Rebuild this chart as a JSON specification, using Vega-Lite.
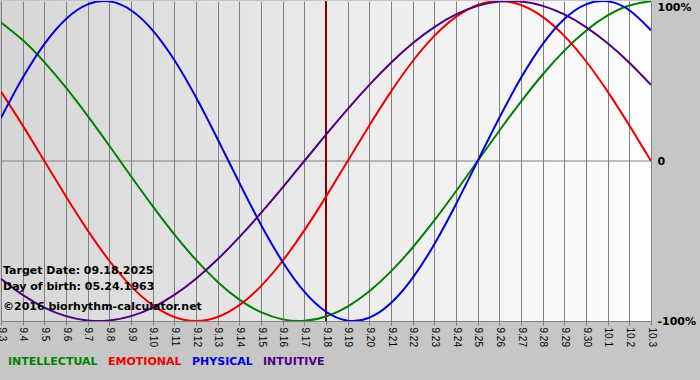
{
  "$schema": "https://vega.github.io/schema/vega-lite/v6.json",
  "width": 650,
  "height": 320,
  "autosize": "none",
  "padding": {"left": 1, "top": 1, "right": 49, "bottom": 59},
  "background": "#c6c6c6",
  "config": {
    "view": {
      "stroke": null,
      "fill": {"gradient": "linear", "x1": 0, "y1": 0, "x2": 1, "y2": 0,
        "stops": [{"offset": 0, "color": "#d6d6d6"}, {"offset": 1, "color": "#fefefe"}]}
    },
    "font": "DejaVu Sans"
  },
  "datasets": {
    "bio": [
      {"day": 0, "INTELLECTUAL": 0.8660, "EMOTIONAL": 0.4339, "PHYSICAL": 0.2698, "INTUITIVE": -0.7357},
      {"day": 1, "INTELLECTUAL": 0.7557, "EMOTIONAL": 0.2225, "PHYSICAL": 0.5196, "INTUITIVE": -0.8372},
      {"day": 2, "INTELLECTUAL": 0.6182, "EMOTIONAL": 0.0, "PHYSICAL": 0.7308, "INTUITIVE": -0.9158},
      {"day": 3, "INTELLECTUAL": 0.4582, "EMOTIONAL": -0.2225, "PHYSICAL": 0.8879, "INTUITIVE": -0.9694},
      {"day": 4, "INTELLECTUAL": 0.2817, "EMOTIONAL": -0.4339, "PHYSICAL": 0.9791, "INTUITIVE": -0.9966},
      {"day": 5, "INTELLECTUAL": 0.0951, "EMOTIONAL": -0.6235, "PHYSICAL": 0.9977, "INTUITIVE": -0.9966},
      {"day": 6, "INTELLECTUAL": -0.0951, "EMOTIONAL": -0.7818, "PHYSICAL": 0.9423, "INTUITIVE": -0.9694},
      {"day": 7, "INTELLECTUAL": -0.2817, "EMOTIONAL": -0.9010, "PHYSICAL": 0.8170, "INTUITIVE": -0.9158},
      {"day": 8, "INTELLECTUAL": -0.4582, "EMOTIONAL": -0.9749, "PHYSICAL": 0.6311, "INTUITIVE": -0.8372},
      {"day": 9, "INTELLECTUAL": -0.6182, "EMOTIONAL": -1.0, "PHYSICAL": 0.3984, "INTUITIVE": -0.7357},
      {"day": 10, "INTELLECTUAL": -0.7557, "EMOTIONAL": -0.9749, "PHYSICAL": 0.1362, "INTUITIVE": -0.6142},
      {"day": 11, "INTELLECTUAL": -0.8660, "EMOTIONAL": -0.9010, "PHYSICAL": -0.1362, "INTUITIVE": -0.4759},
      {"day": 12, "INTELLECTUAL": -0.9450, "EMOTIONAL": -0.7818, "PHYSICAL": -0.3984, "INTUITIVE": -0.3247},
      {"day": 13, "INTELLECTUAL": -0.9898, "EMOTIONAL": -0.6235, "PHYSICAL": -0.6311, "INTUITIVE": -0.1646},
      {"day": 14, "INTELLECTUAL": -0.9989, "EMOTIONAL": -0.4339, "PHYSICAL": -0.8170, "INTUITIVE": 0.0},
      {"day": 15, "INTELLECTUAL": -0.9718, "EMOTIONAL": -0.2225, "PHYSICAL": -0.9423, "INTUITIVE": 0.1646},
      {"day": 16, "INTELLECTUAL": -0.9096, "EMOTIONAL": 0.0, "PHYSICAL": -0.9977, "INTUITIVE": 0.3247},
      {"day": 17, "INTELLECTUAL": -0.8146, "EMOTIONAL": 0.2225, "PHYSICAL": -0.9791, "INTUITIVE": 0.4759},
      {"day": 18, "INTELLECTUAL": -0.6901, "EMOTIONAL": 0.4339, "PHYSICAL": -0.8879, "INTUITIVE": 0.6142},
      {"day": 19, "INTELLECTUAL": -0.5406, "EMOTIONAL": 0.6235, "PHYSICAL": -0.7308, "INTUITIVE": 0.7357},
      {"day": 20, "INTELLECTUAL": -0.3717, "EMOTIONAL": 0.7818, "PHYSICAL": -0.5196, "INTUITIVE": 0.8372},
      {"day": 21, "INTELLECTUAL": -0.1893, "EMOTIONAL": 0.9010, "PHYSICAL": -0.2698, "INTUITIVE": 0.9158},
      {"day": 22, "INTELLECTUAL": 0.0, "EMOTIONAL": 0.9749, "PHYSICAL": 0.0, "INTUITIVE": 0.9694},
      {"day": 23, "INTELLECTUAL": 0.1893, "EMOTIONAL": 1.0, "PHYSICAL": 0.2698, "INTUITIVE": 0.9966},
      {"day": 24, "INTELLECTUAL": 0.3717, "EMOTIONAL": 0.9749, "PHYSICAL": 0.5196, "INTUITIVE": 0.9966},
      {"day": 25, "INTELLECTUAL": 0.5406, "EMOTIONAL": 0.9010, "PHYSICAL": 0.7308, "INTUITIVE": 0.9694},
      {"day": 26, "INTELLECTUAL": 0.6901, "EMOTIONAL": 0.7818, "PHYSICAL": 0.8879, "INTUITIVE": 0.9158},
      {"day": 27, "INTELLECTUAL": 0.8146, "EMOTIONAL": 0.6235, "PHYSICAL": 0.9791, "INTUITIVE": 0.8372},
      {"day": 28, "INTELLECTUAL": 0.9096, "EMOTIONAL": 0.4339, "PHYSICAL": 0.9977, "INTUITIVE": 0.7357},
      {"day": 29, "INTELLECTUAL": 0.9718, "EMOTIONAL": 0.2225, "PHYSICAL": 0.9423, "INTUITIVE": 0.6142},
      {"day": 30, "INTELLECTUAL": 0.9989, "EMOTIONAL": 0.0, "PHYSICAL": 0.8170, "INTUITIVE": 0.4759}
    ]
  },
  "layer": [
    {
      "data": {"values": [{"v": 0}]},
      "mark": {"type": "rule", "color": "#808080", "strokeWidth": 1},
      "encoding": {"y": {"field": "v", "type": "quantitative", "scale": {"domain": [-1, 1], "nice": false},
        "axis": {
          "title": null,
          "orient": "right",
          "values": [-1, 0, 1],
          "labelExpr": "datum.value == 1 ? '100%' : datum.value == -1 ? '-100%' : '0'",
          "labelFont": "DejaVu Sans",
          "labelFontSize": 11,
          "labelFontWeight": "bold",
          "labelColor": "#000000",
          "labelPadding": 6,
          "domain": false,
          "ticks": false,
          "grid": false,
          "labelFlush": false,
          "labelBaseline": {"condition": {"test": "datum.value == 1", "value": "top"}, "value": "middle"}
        }}}
    },
    {
      "data": {"values": [{"day": 15}]},
      "mark": {"type": "rule", "color": "#800000", "strokeWidth": 2},
      "encoding": {"x": {"field": "day", "type": "ordinal",
        "scale": {"type": "point", "padding": 0, "domain": [0,1,2,3,4,5,6,7,8,9,10,11,12,13,14,15,16,17,18,19,20,21,22,23,24,25,26,27,28,29,30]},
        "axis": {
          "title": null,
          "labelExpr": "datum.value <= 27 ? '9.' + (datum.value + 3) : '10.' + (datum.value - 27)",
          "labelAngle": 90,
          "labelFont": "Liberation Sans",
          "labelFontSize": 10,
          "labelColor": "#000000",
          "labelPadding": 2,
          "labelOverlap": false,
          "labelFlush": false,
          "labelBound": false,
          "grid": true,
          "gridColor": "#808080",
          "gridOpacity": 1,
          "gridWidth": 1,
          "domainColor": "#808080",
          "tickColor": "#808080",
          "tickSize": 4
        }}}
    },
    {
      "data": {"name": "bio"},
      "transform": [{"fold": ["INTELLECTUAL", "EMOTIONAL", "PHYSICAL", "INTUITIVE"], "as": ["key", "val"]}],
      "mark": {"type": "line", "strokeWidth": 2, "interpolate": "natural", "clip": true},
      "encoding": {
        "x": {"field": "day", "type": "ordinal"},
        "y": {"field": "val", "type": "quantitative"},
        "color": {
          "field": "key", "type": "nominal",
          "scale": {"domain": ["INTELLECTUAL", "EMOTIONAL", "PHYSICAL", "INTUITIVE"], "range": ["#008000", "#ee0000", "#0000dd", "#4b0082"]},
          "legend": {
            "orient": "none",
            "legendX": 8,
            "legendY": 355,
            "padding": 0,
            "direction": "horizontal",
            "title": null,
            "symbolSize": 0.01,
            "symbolOpacity": 0,
            "symbolStrokeWidth": 0,
            "labelOffset": -12,
            "columnPadding": 10,
            "labelFont": "DejaVu Sans",
            "labelFontSize": 11,
            "labelFontWeight": "bold",
            "encode": {"labels": {"update": {"fill": {"scale": "color", "field": "value"}}}}
          }
        }
      }
    },
    {
      "data": {"values": [{}]},
      "mark": {"type": "text", "align": "left", "baseline": "middle", "dx": 2, "font": "DejaVu Sans", "fontSize": 11, "fontWeight": "bold", "color": "#000000"},
      "encoding": {"x": {"datum": 0, "type": "ordinal"}, "y": {"datum": -0.6875}, "text": {"value": "Target Date: 09.18.2025"}}
    },
    {
      "data": {"values": [{}]},
      "mark": {"type": "text", "align": "left", "baseline": "middle", "dx": 2, "font": "DejaVu Sans", "fontSize": 11, "fontWeight": "bold", "color": "#000000"},
      "encoding": {"x": {"datum": 0, "type": "ordinal"}, "y": {"datum": -0.7875}, "text": {"value": "Day of birth: 05.24.1963"}}
    },
    {
      "data": {"values": [{}]},
      "mark": {"type": "text", "align": "left", "baseline": "middle", "dx": 2, "font": "DejaVu Sans", "fontSize": 11, "fontWeight": "bold", "color": "#000000"},
      "encoding": {"x": {"datum": 0, "type": "ordinal"}, "y": {"datum": -0.912}, "text": {"value": "©2016 biorhythm-calculator.net"}}
    }
  ]
}
